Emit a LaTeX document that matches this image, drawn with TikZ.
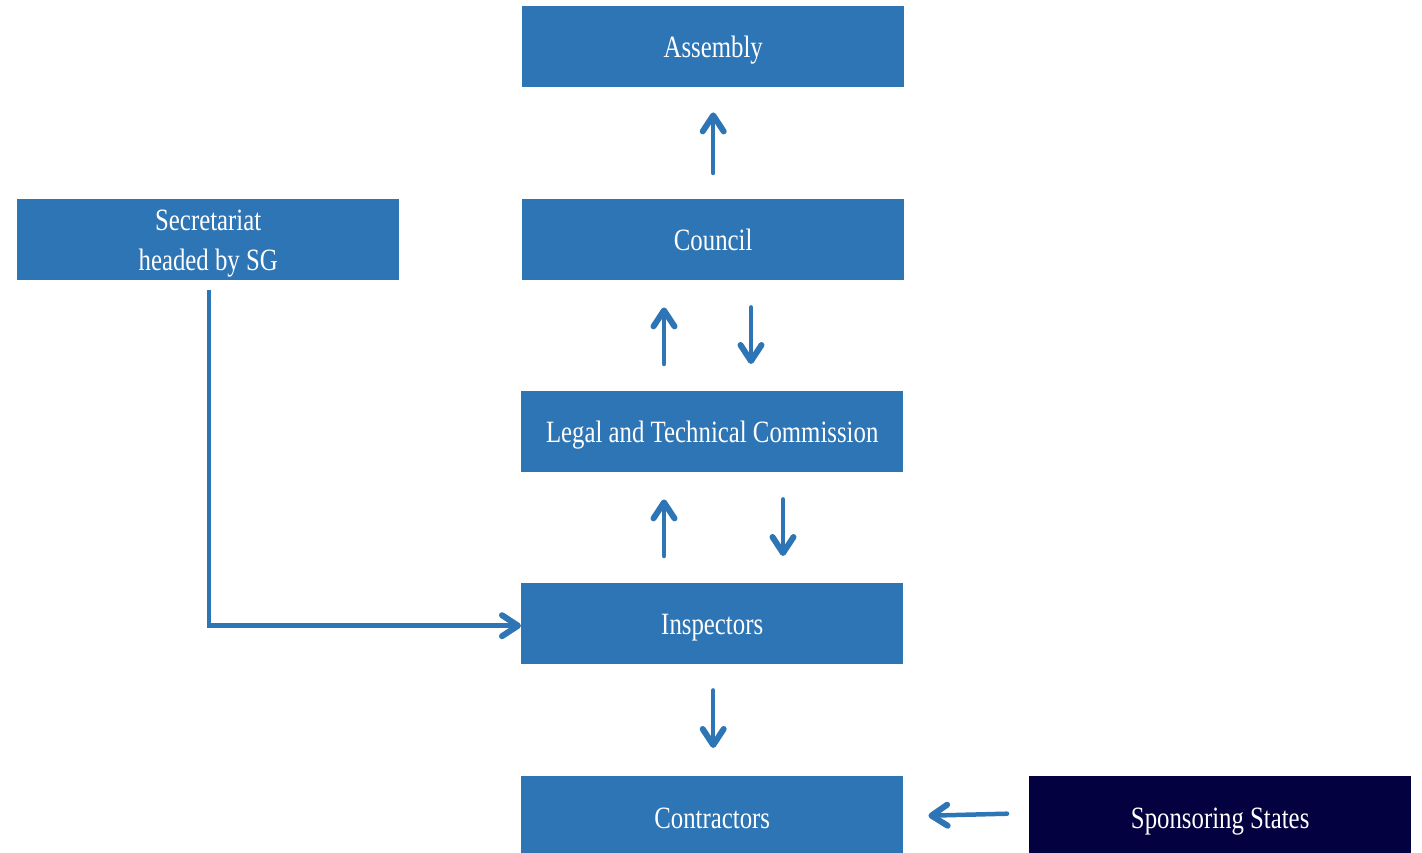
\documentclass[tikz,border=0pt]{standalone}
\usepackage{fontspec}
\setmainfont{Liberation Serif}[FakeStretch=0.8]
\usetikzlibrary{arrows.meta,calc}
\definecolor{boxblue}{HTML}{2E75B6}
\definecolor{navy}{HTML}{03013F}
\tikzset{
  box/.style={fill=boxblue, draw=none, text=white, minimum width=382pt, minimum height=81pt,
    inner sep=0pt, align=center, font=\fontsize{31}{40.5}\selectfont, anchor=north west,
    text height=28pt, text depth=7pt},
  arr/.style={draw=boxblue, line width=4.5pt, line cap=round,
    -{Straight Barb[length=16pt, width=21pt, line width=6pt, round]}}
}
\begin{document}
\begin{tikzpicture}[x=1pt,y=-1pt]
\useasboundingbox (0,0) rectangle (1422,853);
\node[box] (assembly) at (522,6) {Assembly};
\node[box] (council) at (522,199) {Council};
\node[box] (ltc) at (521,391) {Legal and Technical Commission};
\node[box] (insp) at (521,583) {Inspectors};
\node[box, minimum height=83pt] (contr) at (521,776) {Contractors};
\node[box, text height=69pt] (secr) at (17,199) {Secretariat\\headed by SG};
\node[box, fill=navy, minimum height=83pt] (spons) at (1029,776) {Sponsoring States};
% Council -> Assembly
\draw[arr] ($(council.north)+(0,-26)$) -- ($(assembly.south)+(0,25)$);
% Council <-> LTC
\draw[arr] ($(ltc.north west)+(143,-27)$) -- ($(council.south west)+(142,27)$);
\draw[arr] ($(council.south west)+(229,27)$) -- ($(ltc.north west)+(230,-27)$);
% LTC <-> Inspectors
\draw[arr] ($(insp.north west)+(143,-27)$) -- ($(ltc.south west)+(143,27)$);
\draw[arr] ($(ltc.south west)+(262,27)$) -- ($(insp.north west)+(262,-27)$);
% Inspectors -> Contractors
\draw[arr] ($(insp.south)+(1,26)$) -- ($(contr.north)+(1,-28)$);
% Sponsoring -> Contractors
\draw[arr] ($(spons.west)+(-22,-4)$) -- ($(contr.east)+(25,-2)$);
% Secretariat -> Inspectors
\coordinate (start) at ($(secr.south)+(1,10)$);
\draw[arr, line cap=butt] (start) |- ($(insp.west)+(0,2)$);
\end{tikzpicture}
\end{document}
